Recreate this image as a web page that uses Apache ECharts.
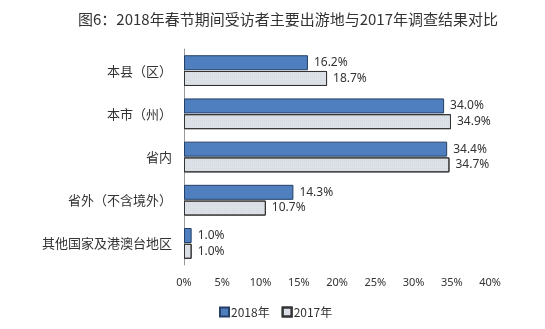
<!DOCTYPE html>
<html><head><meta charset="utf-8">
<script src="https://cdn.jsdelivr.net/npm/echarts@6/dist/echarts.min.js"></script>
<style>html,body{margin:0;padding:0;background:#fff}#c{width:545px;height:329px}</style>
</head><body><div id="c"></div>
<script>
const categories = ['本县（区）','本市（州）','省内','省外（不含境外）','其他国家及港澳台地区'];
const values2018 = [16.2, 34.0, 34.4, 14.3, 1.0];
const values2017 = [18.7, 34.9, 34.7, 10.7, 1.0];
const xTicks = [0,5,10,15,20,25,30,35,40];
const title = '图6：2018年春节期间受访者主要出游地与2017年调查结果对比';

const chart = echarts.init(document.getElementById('c'));
const lbl = {show:true, position:'right', formatter: p => p.value.toFixed(1)+'%', color:'#333', fontSize:12, fontFamily:'Noto Sans', distance:6};
chart.setOption({
  animation:false,
  title:{text:title, left:283, textAlign:'center', top:7, textStyle:{fontSize:15, fontWeight:'normal', color:'#333', fontFamily:'Noto Sans CJK SC'}},
  grid:{left:184, right:55, top:49, bottom:64},
  xAxis:{type:'value', min:0, max:40, interval:5, splitLine:{show:false}, axisLine:{show:false}, axisTick:{show:false},
    axisLabel:{formatter:v=>v+'%', color:'#333', fontSize:11, fontFamily:'Noto Sans', margin:12}},
  yAxis:{type:'category', data:categories, inverse:true, axisLine:{lineStyle:{color:'#999'}}, axisTick:{show:false},
    axisLabel:{color:'#333', fontSize:13, fontFamily:'Noto Sans CJK SC', margin:12}},
  legend:{bottom:6, left:214, icon:'rect', itemWidth:9, itemHeight:9, itemGap:12, textStyle:{fontSize:12, color:'#333', fontFamily:'Noto Sans CJK SC', padding:[0,0,0,-3]}, data:['2018年','2017年']},
  series:[
    {name:'2018年', type:'bar', data:values2018, barWidth:15, barGap:'5%', itemStyle:{color:'#4f7fbf', borderColor:'#243f66', borderWidth:1}, label:lbl},
    {name:'2017年', type:'bar', data:values2017, barWidth:15, itemStyle:{color:'#dde2e8', borderColor:'#333', borderWidth:1,
      decal:{symbol:'rect', symbolSize:0.5, dashArrayX:[1,1], dashArrayY:[1,1], color:'rgba(120,130,140,0.35)'}}, label:lbl}
  ]
});
</script></body></html>
